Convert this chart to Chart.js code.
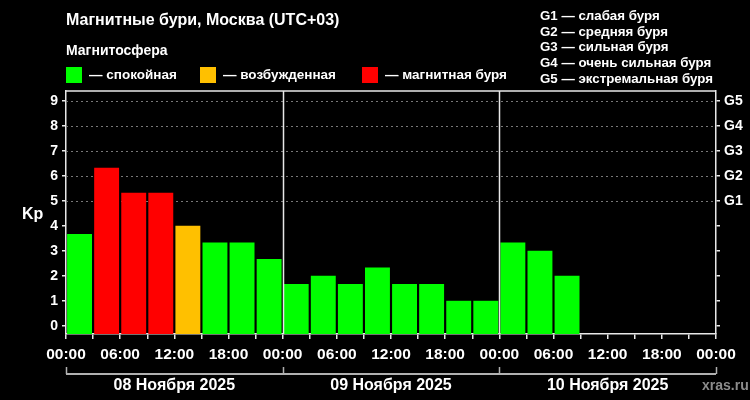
<!DOCTYPE html>
<html>
<head>
<meta charset="utf-8">
<script src="https://cdn.jsdelivr.net/npm/chart.js@4.4.0/dist/chart.umd.min.js"></script>
<style>
  html, body { margin: 0; padding: 0; background: #000; }
  #wrap { position: relative; width: 750px; height: 400px; overflow: hidden; background: #000; }
  canvas { position: absolute; left: 0; top: 0; }
  .t { position: absolute; color: #fff; font-family: "Liberation Sans", Arial, sans-serif; font-weight: bold; white-space: nowrap; line-height: 1; }
  .sq { position: absolute; width: 16px; height: 16px; }
  .day { position: absolute; top: 377px; width: 200px; margin-left: -100px; text-align: center; font-size: 16px; }
</style>
</head>
<body>
<div id="wrap">
  <canvas id="c" width="750" height="400"></canvas>
  <div class="t" style="left:66px; top:12px; font-size:16px;">Магнитные бури, Москва (UTC+03)</div>
  <div class="t" style="left:66px; top:43px; font-size:14px;">Магнитосфера</div>
  <div id="legend"></div>
  <div id="glegend"></div>
  <div id="days"></div>
  <div class="t" style="left:22px; top:206px; font-size:16px;">Kp</div>
  <div class="t" style="left:702px; top:378px; font-size:14px; color:#8c8c8c;">xras.ru</div>
</div>
<script>
// ---- data ----
const DAYS = ['08 Ноября 2025', '09 Ноября 2025', '10 Ноября 2025'];
const SLOT_HOURS = 3;
const KP = [3.67, 6.33, 5.33, 5.33, 4.0, 3.33, 3.33, 2.67,
            1.67, 2.0, 1.67, 2.33, 1.67, 1.67, 1.0, 1.0,
            3.33, 3.0, 2.0, null, null, null, null, null];
const Y_TICKS = [0, 1, 2, 3, 4, 5, 6, 7, 8, 9];
const G_LABELS = ['G1', 'G2', 'G3', 'G4', 'G5'];
const G_START = 5;
const LEGEND_LABELS = ['— спокойная', '— возбужденная', '— магнитная буря'];
const G_TEXTS = ['G1 — слабая буря', 'G2 — средняя буря', 'G3 — сильная буря', 'G4 — очень сильная буря', 'G5 — экстремальная буря'];

// ---- style ----
const COLORS = ['#00ff00', '#ffc000', '#ff0000'];
const Y_MIN = -0.33, Y_MAX = 9.4;
const X_MAX = DAYS.length * 24;
const REG = "'Liberation Sans', Arial, sans-serif";
const AXIS = '#e8e8e8';

function colorFor(v) { return v >= 5 ? COLORS[2] : (v >= 4 ? COLORS[1] : COLORS[0]); }

// legends (HTML)
const legendPos = [66, 200, 362];
const lg = document.getElementById('legend');
LEGEND_LABELS.forEach((txt, i) => {
  const s = document.createElement('div');
  s.className = 'sq';
  s.style.left = legendPos[i] + 'px'; s.style.top = '67px'; s.style.background = COLORS[i];
  lg.appendChild(s);
  const t = document.createElement('div');
  t.className = 't'; t.style.left = (legendPos[i] + 23) + 'px'; t.style.top = '68px'; t.style.fontSize = '13.5px';
  t.textContent = txt;
  lg.appendChild(t);
});
const gl = document.getElementById('glegend');
G_TEXTS.forEach((txt, i) => {
  const t = document.createElement('div');
  t.className = 't'; t.style.left = '540px'; t.style.top = (9 + i * 15.7) + 'px'; t.style.fontSize = '13.3px';
  t.textContent = txt;
  gl.appendChild(t);
});

const points = [];
KP.forEach((v, i) => { if (v !== null) points.push({ x: i * SLOT_HOURS + SLOT_HOURS / 2, y: v }); });

function pad2(n) { return (n < 10 ? '0' : '') + n; }

let daysPlaced = false;
const decor = {
  id: 'decor',
  beforeDatasetsDraw(chart) {
    const { ctx, chartArea: a, scales } = chart;
    const y = scales.y;
    ctx.save();
    ctx.strokeStyle = '#777';
    ctx.lineWidth = 1;
    ctx.setLineDash([2, 3]);
    for (let v = G_START; v <= 9; v++) {
      const py = Math.round(y.getPixelForValue(v)) + 0.5;
      ctx.beginPath(); ctx.moveTo(a.left, py); ctx.lineTo(a.right, py); ctx.stroke();
    }
    ctx.restore();
  },
  afterDraw(chart) {
    const { ctx, chartArea: a, scales } = chart;
    const x = scales.x;
    ctx.save();
    ctx.strokeStyle = AXIS;
    ctx.lineWidth = 1.5;
    ctx.beginPath(); ctx.moveTo(a.left, a.top); ctx.lineTo(a.right, a.top); ctx.stroke();
    for (let d = 1; d < DAYS.length; d++) {
      const px = Math.round(x.getPixelForValue(d * 24)) + 0.5;
      ctx.beginPath(); ctx.moveTo(px, a.top); ctx.lineTo(px, a.bottom); ctx.stroke();
    }
    // bracket under the time labels
    ctx.strokeStyle = '#b0b0b0';
    ctx.lineWidth = 2;
    const by = 374;
    ctx.beginPath(); ctx.moveTo(x.getPixelForValue(0), by); ctx.lineTo(x.getPixelForValue(X_MAX), by); ctx.stroke();
    ctx.lineWidth = 1.5;
    for (let d = 0; d <= DAYS.length; d++) {
      const px = Math.round(x.getPixelForValue(d * 24)) + 0.5;
      ctx.beginPath(); ctx.moveTo(px, by - 7); ctx.lineTo(px, by); ctx.stroke();
    }
    ctx.restore();
    if (!daysPlaced) {
      daysPlaced = true;
      const box = document.getElementById('days');
      DAYS.forEach((d, i) => {
        const el = document.createElement('div');
        el.className = 't day';
        el.style.left = x.getPixelForValue(i * 24 + 12) + 'px';
        el.textContent = d;
        box.appendChild(el);
      });
    }
  }
};

new Chart(document.getElementById('c'), {
  type: 'bar',
  data: {
    datasets: [{
      data: points,
      backgroundColor: points.map(p => colorFor(p.y)),
      borderWidth: 0,
      base: Y_MIN,
      barPercentage: 0.92,
      categoryPercentage: 1.0,
      xAxisID: 'x',
      yAxisID: 'y'
    }]
  },
  options: {
    responsive: false,
    animation: false,
    layout: { padding: { top: 91, left: 0, right: 0, bottom: 0 } },
    plugins: { legend: { display: false }, tooltip: { enabled: false } },
    scales: {
      x: {
        type: 'linear', position: 'bottom', min: 0, max: X_MAX, offset: false,
        afterBuildTicks(s) { const t = []; for (let h = 0; h <= X_MAX; h += SLOT_HOURS) t.push({ value: h }); s.ticks = t; },
        afterFit(s) { s.height = 66; },
        ticks: {
          autoSkip: false, maxRotation: 0, padding: 6, color: '#fff',
          font: { family: REG, size: 15.5, weight: 'bold' },
          callback(v) { return (v % 6 === 0) ? pad2(v % 24) + ':00' : ''; }
        },
        grid: { offset: false, drawOnChartArea: false, tickLength: 5, tickColor: AXIS, lineWidth: 1.5 },
        border: { color: AXIS, width: 1.5 }
      },
      y: {
        type: 'linear', position: 'left', min: Y_MIN, max: Y_MAX,
        afterBuildTicks(s) { s.ticks = Y_TICKS.map(v => ({ value: v })); },
        afterFit(s) { s.width = 66; },
        ticks: { color: '#fff', padding: 4, font: { family: REG, size: 14, weight: 'bold' } },
        grid: { drawOnChartArea: false, tickLength: 4, tickColor: AXIS, lineWidth: 1.5 },
        border: { color: AXIS, width: 1.5 }
      },
      y2: {
        type: 'linear', position: 'right', min: Y_MIN, max: Y_MAX,
        afterBuildTicks(s) { s.ticks = Y_TICKS.map(v => ({ value: v })); },
        afterFit(s) { s.width = 34; },
        ticks: {
          color: '#fff', padding: 4, font: { family: REG, size: 14, weight: 'bold' },
          callback(v) { return v >= G_START ? G_LABELS[v - G_START] : ''; }
        },
        grid: { drawOnChartArea: false, tickLength: 4, tickColor: AXIS, lineWidth: 1.5 },
        border: { color: AXIS, width: 1.5 }
      }
    }
  },
  plugins: [decor]
});
</script>
</body>
</html>
